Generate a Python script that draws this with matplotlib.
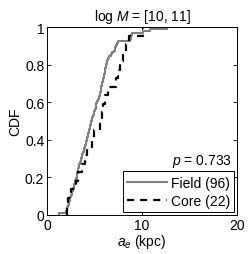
import numpy as np
import matplotlib
matplotlib.use("Agg")
import matplotlib.pyplot as plt

plt.rcParams['font.family'] = ['Liberation Sans', 'DejaVu Sans']
plt.rcParams['font.size'] = 10
plt.rcParams['mathtext.fontset'] = 'custom'
plt.rcParams['mathtext.rm'] = 'Liberation Sans'
plt.rcParams['mathtext.it'] = 'Liberation Sans:italic'

# Semi-major axis values (kpc)
field_ae = [1.3, 2.0, 2.1, 2.15, 2.2, 2.3, 2.35, 2.4, 2.45, 2.5,
            2.6, 2.65, 2.7, 2.75, 2.8, 2.85, 2.9, 2.95, 3.0, 3.1,
            3.15, 3.2, 3.25, 3.3, 3.35, 3.4, 3.5, 3.55, 3.6, 3.65,
            3.7, 3.8, 3.85, 3.9, 3.95, 4.0, 4.05, 4.1, 4.2, 4.25,
            4.3, 4.35, 4.4, 4.45, 4.5, 4.55, 4.6, 4.65, 4.7, 4.75,
            4.8, 4.9, 4.95, 5.0, 5.1, 5.15, 5.2, 5.3, 5.35, 5.45,
            5.5, 5.6, 5.62, 5.65, 5.7, 5.72, 5.75, 5.8, 5.85, 5.9,
            5.95, 6.0, 6.05, 6.1, 6.15, 6.2, 6.25, 6.3, 6.35, 6.4,
            6.55, 6.7, 6.85, 7.0, 7.1, 7.2, 7.3, 7.4, 7.5, 8.7,
            8.8, 8.85, 8.9, 10.1, 10.8, 12.6]
core_ae = [2.05, 2.2, 2.5, 3.0, 3.3, 3.7, 4.0, 4.2, 4.7, 4.9,
           5.6, 5.8, 5.9, 6.1, 6.45, 7.25, 7.5, 7.7, 8.0, 8.3,
           8.6, 10.1]
p_value = 0.733


def ecdf(vals):
    x = np.sort(np.asarray(vals))
    y = np.arange(1, len(x) + 1) / len(x)
    return np.concatenate([[x[0]], x]), np.concatenate([[0.0], y])


fig = plt.figure(figsize=(2.49, 2.55), dpi=100)
ax = fig.add_axes([0.189, 0.153, 0.763, 0.737])

xf, yf = ecdf(field_ae)
xc, yc = ecdf(core_ae)
ax.step(xf, yf, where='post', color='#808080', lw=1.5,
        label='Field (%d)' % len(field_ae))
ax.step(xc, yc, where='post', color='black', lw=1.6,
        linestyle=(0, (3.2, 2.7)), label='Core (%d)' % len(core_ae))

ax.set_xlim(0, 20)
ax.set_ylim(0, 1)
ax.set_xticks([0, 10, 20])
ax.set_yticks([0, 0.2, 0.4, 0.6, 0.8, 1])
ax.set_yticklabels(['0', '0.2', '0.4', '0.6', '0.8', '1'])
ax.tick_params(direction='in', top=True, right=True, length=3, width=0.6, pad=2)
for s in ax.spines.values():
    s.set_linewidth(0.7)

ax.set_title(r'log $M$ = [10, 11]', fontsize=10, pad=5)
ax.set_ylabel('CDF', labelpad=2)
ax.set_xlabel(r'$a_e$ (kpc)', labelpad=0)

ax.text(0.974, 0.27, r'$p$ = %.3f' % p_value, transform=ax.transAxes,
        ha='right', va='baseline')

leg = ax.legend(loc='lower right', bbox_to_anchor=(0.984, 0.016),
                handlelength=2.9, handletextpad=0.25, borderpad=0.3,
                labelspacing=0.3, borderaxespad=0, fancybox=False,
                framealpha=1, edgecolor='black')
leg.get_frame().set_linewidth(0.7)

fig.savefig('out.png', dpi=100)
